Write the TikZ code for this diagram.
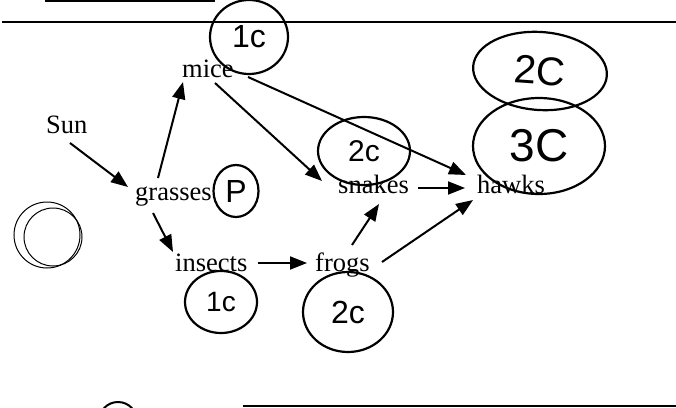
\documentclass[tikz,border=0pt]{standalone}
\usepackage{fontspec}
\setmainfont{Liberation Serif}
\newfontfamily\handfont{Liberation Sans}
\usetikzlibrary{arrows.meta,shapes.geometric}
\begin{document}
\begin{tikzpicture}[x=1pt,y=-1pt,
  word/.style={inner sep=0pt, anchor=base west, font=\fontsize{26.5}{26.5}\selectfont},
  arr/.style={line width=2pt, -{Triangle[length=17pt,width=13pt]}},
  hand/.style={draw, ellipse, line width=2.2pt, inner sep=0pt, font=\handfont\fontsize{#1}{#1}\selectfont},
  rule/.style={line width=2.2pt},
  thinring/.style={line width=1pt}
]
\useasboundingbox (0,0) rectangle (676,407);

% ruled lines
\draw[rule] (45,1) -- (215,1);
\draw[rule] (2,22) -- (676,22);
\draw[rule] (243,406) -- (676,406);

% words
\node[word] (sun) at (46,133) {Sun};
\node[word] (mice) at (182,77) {mice};
\node[word] (grasses) at (135,200) {grasses};
\node[word] (insects) at (175,271) {insects};
\node[word] (frogs) at (315,271) {frogs};
\node[word] (snakes) at (338,193) {snakes};
\node[word] (hawks) at (477,193) {hawks};

% arrows
\draw[arr] ([shift={(24,10)}]sun.base west) -- ([shift={(-7,-13)}]grasses.base west);
\draw[arr] ([shift={(23,-22)}]grasses.base west) -- ([shift={(1,5)}]mice.base west);
\draw[arr] ([shift={(18,13)}]grasses.base west) -- ([shift={(-2,-19)}]insects.base west);
\draw[arr] ([shift={(33,6)}]mice.base west) -- ([shift={(-16,-12)}]snakes.base west);
\draw[arr] ([shift={(66,0)}]mice.base west) -- ([shift={(-11,-18)}]hawks.base west);
\draw[arr] ([shift={(80,-5)}]snakes.base west) -- ([shift={(-12,-5)}]hawks.base west);
\draw[arr] ([shift={(37,-26)}]frogs.base west) -- ([shift={(41,11)}]snakes.base west);
\draw[arr] ([shift={(67,-9)}]frogs.base west) -- ([shift={(-4,7)}]hawks.base west);
\draw[arr] ([shift={(83,-8)}]insects.base west) -- ([shift={(-8,-8)}]frogs.base west);

% handwritten circled labels
\node[hand=32, minimum width=78pt, minimum height=74pt] (c1top) at (249,37) {1c};
\node[hand=40, minimum width=134pt, minimum height=78pt, rotate=-4] (c2top) at (540,71) {2C};
\node[hand=46, minimum width=132pt, minimum height=96pt] (c3) at (539,146) {3C};
\node[hand=30, minimum width=92pt, minimum height=68pt] (c2snk) at (364,151) {2c};
\node[hand=32, minimum width=45pt, minimum height=52pt] (cp) at (236,191) {P};
\node[hand=28, minimum width=72pt, minimum height=62pt] (c1low) at (221,302) {1c};
\node[hand=32, minimum width=90pt, minimum height=80pt] (c2frg) at (348,312) {2c};

% stray rings
\draw[thinring] (47,235) circle[radius=33pt];
\draw[thinring] (53,237) circle[radius=29pt];
\begin{scope}
\clip (0,0) rectangle (676,407);
\draw[line width=2pt] (118,421) circle[radius=19pt];
\end{scope}
\end{tikzpicture}
\end{document}
